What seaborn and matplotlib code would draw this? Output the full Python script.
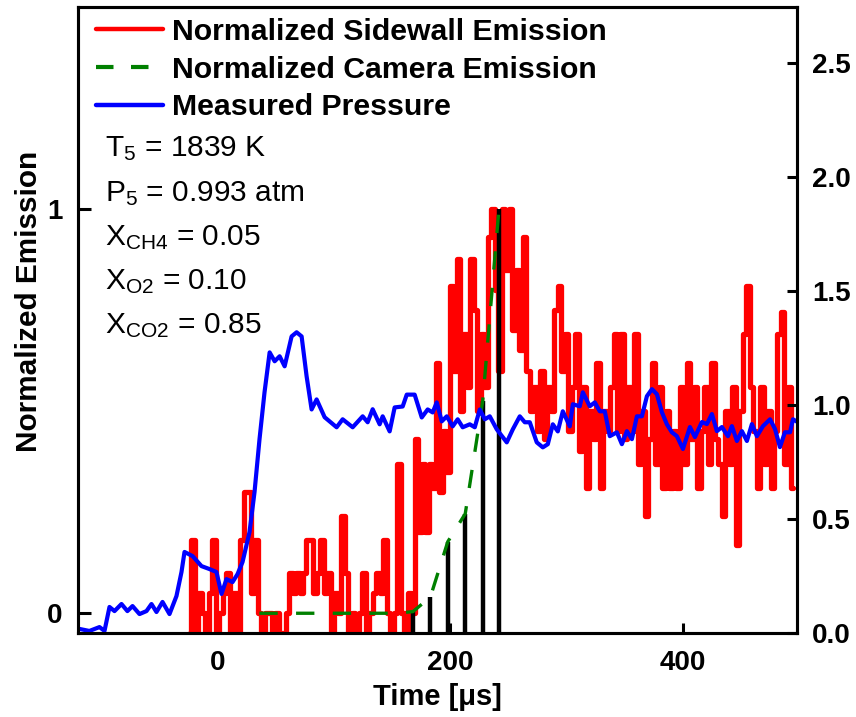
import numpy as np
import pandas as pd
import matplotlib
matplotlib.use("Agg")
import matplotlib.pyplot as plt
import seaborn as sns
from matplotlib.lines import Line2D

sns.set_theme(style="ticks")
plt.rcParams["font.family"] = ["Liberation Sans", "DejaVu Sans"]
plt.rcParams["mathtext.fontset"] = "custom"
plt.rcParams["mathtext.rm"] = "Liberation Sans"
plt.rcParams["mathtext.it"] = "Liberation Sans:italic"
plt.rcParams["mathtext.bf"] = "Liberation Sans:bold"
plt.rcParams["text.color"] = "black"
plt.rcParams["axes.labelcolor"] = "black"
plt.rcParams["xtick.color"] = "black"
plt.rcParams["ytick.color"] = "black"

# ---------------- data ----------------
# Normalized sidewall emission (sampled every 3 us starting at -24 us)
sidewall_start = -24
sidewall_step = 3
sidewall_v = [
    -0.05, 0.18, -0.05, 0.05, 0.0, -0.05, 0.05, 0.18, -0.05, 0.0,
    0.05, 0.1, -0.05, 0.05, -0.05, 0.18, 0.3, 0.3, 0.05, 0.18,
    0.0, -0.05, 0.0, 0.0, -0.05, 0.0, -0.05, -0.05, 0.0, 0.1,
    0.05, 0.1, 0.05, 0.1, 0.18, 0.18, 0.05, 0.1, 0.18, 0.05,
    0.1, -0.05, 0.05, 0.0, 0.24, 0.1, -0.05, 0.0, -0.05, 0.0,
    0.1, -0.05, 0.0, 0.05, 0.1, 0.05, 0.18, 0.0, -0.05, 0.0,
    0.37, 0.0, -0.05, 0.05, 0.0, 0.43, 0.2, 0.37, 0.2, 0.37,
    0.31, 0.62, 0.3, 0.45, 0.35, 0.81, 0.6, 0.875, 0.5, 0.69,
    0.56, 0.875, 0.75, 0.5, 0.69, 0.56, 0.93, 1.0, 0.8, 0.6,
    1.0, 0.85, 1.0, 0.7, 0.85, 0.65, 0.93, 0.6, 0.5, 0.56,
    0.45, 0.6, 0.43, 0.56, 0.5, 0.75, 0.81, 0.6, 0.69, 0.45,
    0.56, 0.69, 0.4, 0.56, 0.31, 0.5, 0.43, 0.62, 0.31, 0.5,
    0.45, 0.56, 0.69, 0.45, 0.69, 0.43, 0.56, 0.45, 0.69, 0.37,
    0.5, 0.24, 0.43, 0.62, 0.37, 0.56, 0.31, 0.5, 0.31, 0.45,
    0.31, 0.56, 0.37, 0.62, 0.43, 0.56, 0.31, 0.45, 0.56, 0.37,
    0.62, 0.43, 0.37, 0.24, 0.5, 0.37, 0.56, 0.17, 0.5, 0.69,
    0.81, 0.56, 0.45, 0.31, 0.56, 0.37, 0.5, 0.31, 0.45, 0.69,
    0.745, 0.37, 0.56, 0.31,
]
sidewall_t = sidewall_start + sidewall_step * np.arange(len(sidewall_v))

# Normalized camera emission (frames)
camera_t = [36, 50, 65, 80, 95, 109, 124, 139, 153, 168, 183, 198, 213, 228, 242]
camera_v = [0.0, 0.0, 0.0, 0.0, 0.0, 0.0, 0.0, 0.0, 0.0, 0.004, 0.04, 0.177, 0.246, 0.524, 1.0]
# frames marked with black bars
frame_t = [168, 183, 198, 213, 228, 242]
frame_v = [0.004, 0.04, 0.177, 0.246, 0.524, 1.0]

# Measured pressure [atm]
pressure_t = [
    -118.8, -110.2, -101.5, -97.2, -92.9, -88.6, -82.6, -77.5, -73.1, -67.1,
    -61.1, -56.8, -52.5, -47.3, -41.3, -35.3, -31.0, -28.4, -21.5, -13.8,
    -6.9, -0.9, 3.4, 7.7, 12.9, 17.2, 21.5, 27.5, 31.8, 36.1,
    40.4, 44.8, 49.1, 53.4, 57.7, 63.7, 68.0, 72.3, 76.6, 80.9,
    85.2, 92.1, 102.4, 107.6, 116.2, 124.8, 129.1, 133.4, 139.4, 142.0,
    148.0, 152.3, 159.2, 162.7, 169.5, 175.6, 180.7, 185.0, 188.5, 192.8,
    197.1, 202.2, 206.5, 210.8, 216.9, 221.2, 225.5, 229.8, 234.1, 240.1,
    248.7, 253.9, 259.9, 264.2, 268.5, 274.5, 279.7, 284.0, 288.3, 292.6,
    296.9, 302.9, 305.5, 311.5, 314.1, 320.1, 324.4, 328.7, 333.0, 337.3,
    343.4, 347.7, 352.0, 356.3, 360.6, 364.9, 369.2, 373.5, 377.8, 382.1,
    386.4, 390.7, 395.0, 400.2, 406.2, 410.5, 416.5, 420.8, 425.1, 429.4,
    433.7, 438.9, 442.3, 446.6, 450.9, 455.2, 459.5, 463.8, 469.0, 475.1,
    479.4, 483.6, 487.9, 492.3, 494.8, 499.1,
]
pressure_v = [
    0.02, 0.011, 0.028, 0.011, 0.116, 0.098, 0.129, 0.098, 0.12, 0.085,
    0.098, 0.129, 0.094, 0.138, 0.085, 0.164, 0.269, 0.357, 0.339, 0.295,
    0.282, 0.269, 0.173, 0.238, 0.225, 0.26, 0.313, 0.444, 0.619, 0.851,
    1.056, 1.231, 1.192, 1.214, 1.170, 1.301, 1.319, 1.301, 1.126, 0.981,
    1.025, 0.947, 0.903, 0.938, 0.903, 0.951, 0.925, 0.982, 0.916, 0.951,
    0.885, 0.99, 0.994, 1.046, 1.046, 0.946, 0.981, 0.968, 1.012, 0.929,
    0.951, 0.907, 0.938, 0.903, 0.916, 0.903, 0.981, 0.938, 0.951, 0.894,
    0.837, 0.894, 0.951, 0.925, 0.925, 0.837, 0.815, 0.829, 0.916, 0.885,
    0.973, 0.907, 1.004, 0.995, 1.056, 0.995, 1.012, 0.973, 0.973, 0.864,
    0.881, 0.829, 0.886, 0.851, 0.951, 0.951, 1.039, 1.070, 1.048, 0.969,
    0.916, 0.881, 0.864, 0.808, 0.904, 0.860, 0.926, 0.917, 0.961, 0.886,
    0.904, 0.864, 0.908, 0.843, 0.886, 0.843, 0.917, 0.864, 0.908, 0.938,
    0.895, 0.816, 0.881, 0.881, 0.938, 0.925,
]

series_labels = ["Normalized Sidewall Emission", "Normalized Camera Emission", "Measured Pressure"]
x_ticks = [0, 200, 400]
left_ticks = [0, 1]
right_ticks = [0.0, 0.5, 1.0, 1.5, 2.0, 2.5]
conditions = [
    r"T$_\mathrm{5}$ = 1839 K",
    r"P$_\mathrm{5}$ = 0.993 atm",
    r"X$_\mathrm{CH4}$ = 0.05",
    r"X$_\mathrm{O2}$ = 0.10",
    r"X$_\mathrm{CO2}$ = 0.85",
]

# ---------------- figure ----------------
RED, GREEN, BLUE = "#ff0000", "#008000", "#0000ff"
fig = plt.figure(figsize=(8.56, 7.17), dpi=100)
ax = fig.add_axes([0.0911, 0.1165, 0.8396, 0.8742])
ax.set_facecolor("white")

sns.lineplot(x=sidewall_t, y=sidewall_v, ax=ax, color=RED, lw=3.8,
             drawstyle="steps-mid", estimator=None, legend=False, zorder=2)
ax.vlines(frame_t, -0.05, frame_v, colors="black", lw=3.2, zorder=3)
sns.lineplot(x=camera_t, y=camera_v, ax=ax, color=GREEN, lw=2.4,
             linestyle=(0, (5.5, 5.5)), estimator=None, legend=False, zorder=4)

ax2 = ax.twinx()
sns.lineplot(x=pressure_t, y=pressure_v, ax=ax2, color=BLUE, lw=3.0,
             estimator=None, legend=False)

ax.set_xlim(-120, 498)
ax.set_ylim(-0.05, 1.5)
ax2.set_ylim(0, 2.745)
ax.set_xticks(x_ticks)
ax.set_yticks(left_ticks)
ax2.set_yticks(right_ticks)
ax2.set_yticklabels([f"{v:.1f}" for v in right_ticks])

for a in (ax, ax2):
    for s in a.spines.values():
        s.set_linewidth(2.2)
        s.set_color("black")
ax.tick_params(axis="x", direction="in", length=7, width=2.2, labelsize=20, pad=12, colors="black")
ax.tick_params(axis="y", direction="in", length=9, width=2.2, labelsize=20, pad=11, colors="black")
ax2.tick_params(axis="y", direction="in", length=7, width=2.2, labelsize=20, pad=11, colors="black")
for lab in ax.get_xticklabels() + ax.get_yticklabels() + ax2.get_yticklabels():
    lab.set_fontweight("bold")

ax.set_xlabel("Time [μs]", fontsize=21, fontweight="bold", labelpad=5, color="black")
ax.set_ylabel("Normalized Emission", fontsize=21.4, fontweight="bold", color="black")
ax.yaxis.set_label_coords(-0.048, 0.530)
ax2.set_ylabel("")
ax.grid(False)
ax2.grid(False)

handles = [
    Line2D([], [], color=RED, lw=3.2),
    Line2D([], [], color=GREEN, lw=3.0, linestyle=(0, (4.2, 4.2))),
    Line2D([], [], color=BLUE, lw=3.2),
]
leg = ax2.legend(handles, series_labels, loc="upper left",
                 bbox_to_anchor=(96 / 856, 1 - 18 / 717), bbox_transform=fig.transFigure,
                 frameon=False, prop={"weight": "bold", "size": 21.8},
                 handlelength=2.2, handletextpad=0.3, labelspacing=0.32,
                 borderpad=0, borderaxespad=0)
for t in leg.get_texts():
    t.set_color("black")

baselines = [156, 201, 245, 289.3, 333.3]
for txt, yb in zip(conditions, baselines):
    fig.text(105 / 856, 1 - yb / 717, txt, fontsize=21.5, va="baseline", ha="left", color="black")

fig.savefig("out.png", dpi=100, facecolor="white")
